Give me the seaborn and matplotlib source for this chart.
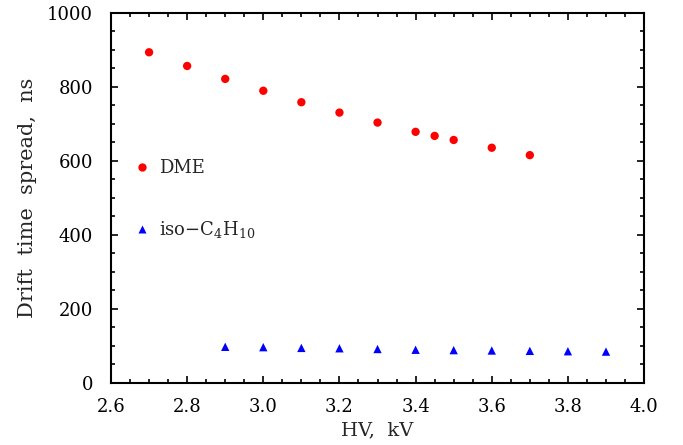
import matplotlib
matplotlib.use("Agg")
import matplotlib.pyplot as plt
import pandas as pd
import seaborn as sns
from matplotlib.ticker import MultipleLocator, FormatStrFormatter

# DME
hv_dme = [2.7, 2.8, 2.9, 3.0, 3.1, 3.2, 3.3, 3.4, 3.45, 3.5, 3.6, 3.7]
spread_dme = [893, 856, 821, 789, 758, 730, 703, 678, 667, 656, 635, 615]

# iso-C4H10
hv_iso = [2.9, 3.0, 3.1, 3.2, 3.3, 3.4, 3.5, 3.6, 3.7, 3.8, 3.9]
spread_iso = [97, 96, 94, 93, 91, 89, 88, 87, 86, 85, 84]

gas_labels = ["DME", "iso\u2212C$_4$H$_{10}$"]

df = pd.concat(
    [
        pd.DataFrame({"hv": hv_dme, "spread": spread_dme, "gas": gas_labels[0]}),
        pd.DataFrame({"hv": hv_iso, "spread": spread_iso, "gas": gas_labels[1]}),
    ]
)

sns.set_style("ticks")
plt.rcParams["font.family"] = ["DejaVu Serif"]
plt.rcParams["mathtext.fontset"] = "dejavuserif"

fig = plt.figure(figsize=(6.83, 4.45), dpi=100)
ax = fig.add_axes([0.1625, 0.14, 0.7805, 0.8315])

sns.scatterplot(
    data=df,
    x="hv",
    y="spread",
    hue="gas",
    style="gas",
    palette={gas_labels[0]: "#ff0000", gas_labels[1]: "#0000ff"},
    markers={gas_labels[0]: "o", gas_labels[1]: "^"},
    s=36,
    edgecolor="none",
    ax=ax,
)

ax.set_xlim(2.6, 4.0)
ax.set_ylim(0, 1000)
ax.xaxis.set_major_locator(MultipleLocator(0.2))
ax.xaxis.set_minor_locator(MultipleLocator(0.05))
ax.yaxis.set_major_locator(MultipleLocator(200))
ax.yaxis.set_minor_locator(MultipleLocator(50))
ax.xaxis.set_major_formatter(FormatStrFormatter("%.1f"))
ax.tick_params(which="both", direction="in", top=True, right=True,
               width=1.2, labelsize=13, colors="black")
ax.tick_params(which="major", length=5)
ax.tick_params(which="minor", length=3)
ax.tick_params(axis="x", which="major", pad=11)
ax.tick_params(axis="y", which="major", pad=13)
for sp in ax.spines.values():
    sp.set_visible(True)
    sp.set_linewidth(1.5)
    sp.set_color("black")

ax.set_xlabel("HV,  kV", fontsize=14, labelpad=4)
ax.set_ylabel("Drift  time  spread,  ns", fontsize=15, labelpad=7)

handles, labels = ax.get_legend_handles_labels()
ax.legend(
    handles,
    labels,
    loc="upper left",
    bbox_to_anchor=(0.041, 0.605),
    frameon=False,
    fontsize=13,
    borderpad=0,
    borderaxespad=0,
    handlelength=1.0,
    handletextpad=0.44,
    labelspacing=2.36,
)

fig.savefig("out.png", dpi=100)
